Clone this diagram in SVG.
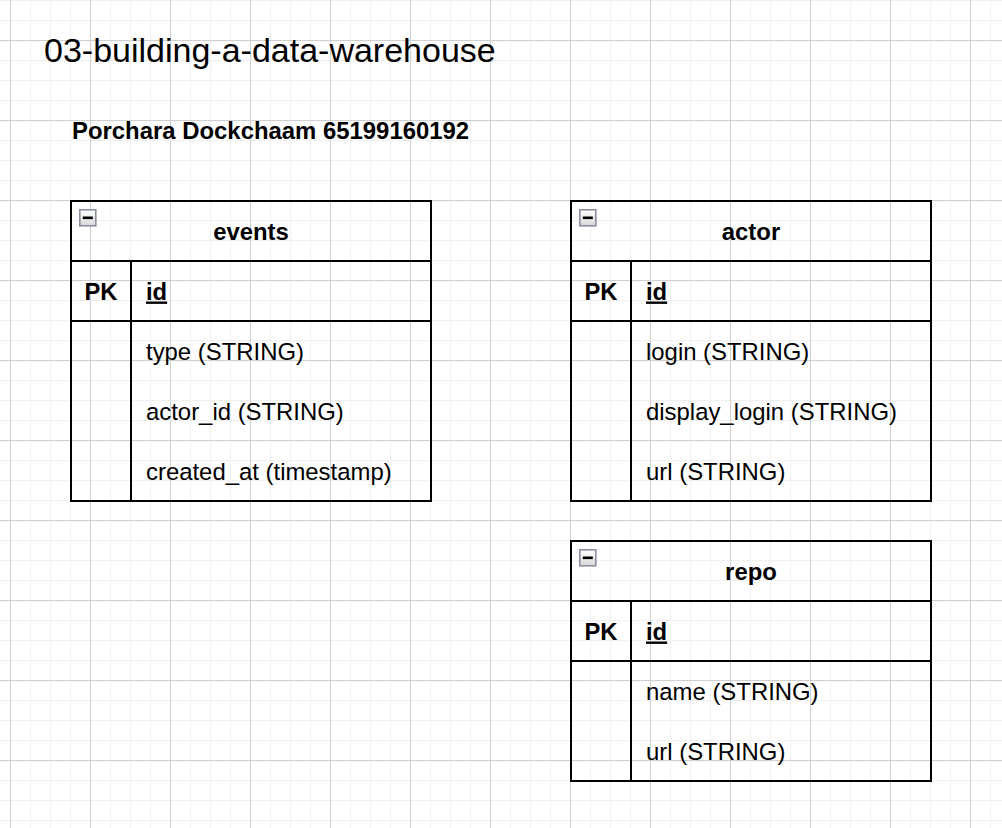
<svg xmlns="http://www.w3.org/2000/svg" width="1002" height="828" viewBox="0 0 1002 828">
<style>
.t{font-family:"Liberation Sans",Arial,Helvetica,sans-serif;fill:#000}
.title{font-size:34px}
.sub{font-size:23.9px;font-weight:bold}
.hd{font-size:23.9px;font-weight:bold;text-anchor:middle}
.pk{font-size:23.8px;font-weight:bold;text-anchor:middle}
.id{font-size:23.8px;font-weight:bold;text-decoration:underline}
.f{font-size:23.9px}
.box{fill:none;stroke:#000;stroke-width:2}
.ln{stroke:#000;stroke-width:2;fill:none}
.ic{fill:url(#icg);stroke:#8a90a0;stroke-width:1.6}
</style>
<defs>
<pattern id="minor" width="20" height="20" patternUnits="userSpaceOnUse" x="10" y="0">
<path d="M0.5 0V20M0 0.5H20" stroke="#f1f1f1" stroke-width="1.3" fill="none"/>
</pattern>
<pattern id="major" width="80" height="80" patternUnits="userSpaceOnUse" x="10" y="40">
<path d="M0.5 0V80M0 0.5H80" stroke="#d0d0d0" stroke-width="1" fill="none"/>
</pattern>
<linearGradient id="icg" x1="0" y1="0" x2="0" y2="1">
<stop offset="0" stop-color="#ffffff"/>
<stop offset="1" stop-color="#d8d8d8"/>
</linearGradient>
<g id="minus">
<rect class="ic" x="0.8" y="0.8" width="16" height="16"/>
<rect x="3.8" y="7.5" width="10" height="2.6" fill="#000"/>
</g>
</defs>
<rect width="1002" height="828" fill="#fff"/>
<rect width="1002" height="828" fill="url(#minor)"/>
<rect width="1002" height="828" fill="url(#major)"/>

<g id="title">
<text class="t title" x="44" y="62">03-building-a-data-warehouse</text>
</g>
<g id="subtitle">
<text class="t sub" x="72" y="139">Porchara Dockchaam 65199160192</text>
</g>

<g id="events">
<rect class="box" x="71" y="201" width="360" height="300"/>
<path class="ln" d="M71 261H431M71 321H431M131 261V501"/>
<use href="#minus" x="79" y="209"/>
<text class="t hd" x="251" y="240">events</text>
<text class="t pk" x="101" y="299.5">PK</text>
<text class="t id" x="146" y="299.5">id</text>
<text class="t f" x="146" y="359.5">type (STRING)</text>
<text class="t f" x="146" y="419.5">actor_id (STRING)</text>
<text class="t f" x="146" y="479.5">created_at (timestamp)</text>
</g>

<g id="actor">
<rect class="box" x="571" y="201" width="360" height="300"/>
<path class="ln" d="M571 261H931M571 321H931M631 261V501"/>
<use href="#minus" x="579" y="209"/>
<text class="t hd" x="751" y="240">actor</text>
<text class="t pk" x="601" y="299.5">PK</text>
<text class="t id" x="646" y="299.5">id</text>
<text class="t f" x="646" y="359.5">login (STRING)</text>
<text class="t f" x="646" y="419.5">display_login (STRING)</text>
<text class="t f" x="646" y="479.5">url (STRING)</text>
</g>

<g id="repo">
<rect class="box" x="571" y="541" width="360" height="240"/>
<path class="ln" d="M571 601H931M571 661H931M631 601V781"/>
<use href="#minus" x="579" y="549"/>
<text class="t hd" x="751" y="580">repo</text>
<text class="t pk" x="601" y="639.5">PK</text>
<text class="t id" x="646" y="639.5">id</text>
<text class="t f" x="646" y="699.5">name (STRING)</text>
<text class="t f" x="646" y="759.5">url (STRING)</text>
</g>

<g id="connectors"></g>
</svg>
